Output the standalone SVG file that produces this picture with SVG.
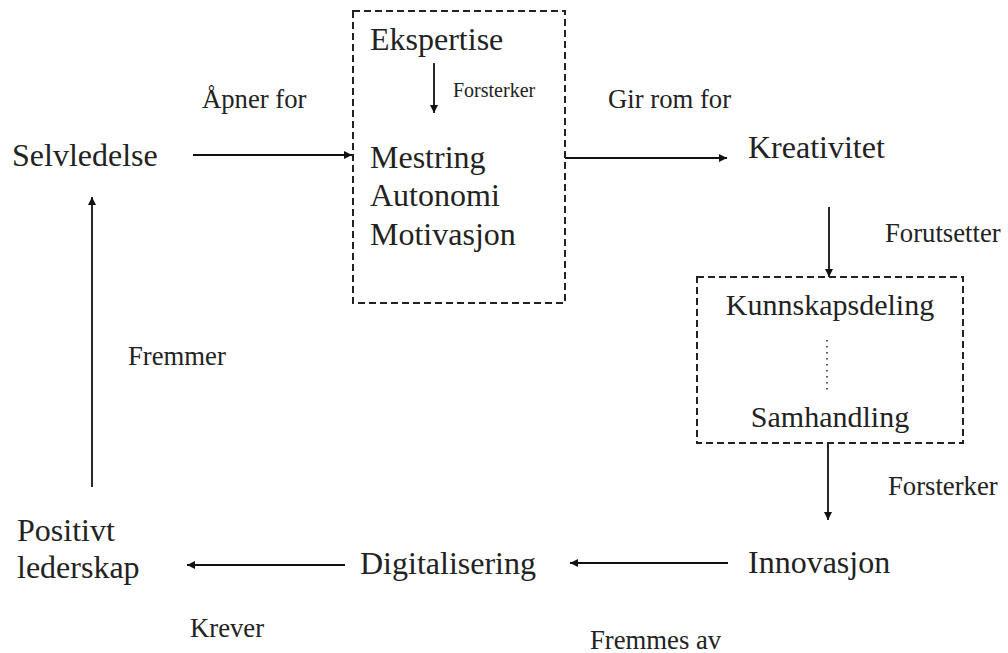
<svg xmlns="http://www.w3.org/2000/svg" width="1008" height="653" viewBox="0 0 1008 653">
<style>
text{font-family:"Liberation Serif","Times New Roman",serif;fill:#222}
.big{font-size:32px}
.mid{font-size:30px}
.lbl{font-size:26.7px}
.sm{font-size:20px}
.box{fill:none;stroke:#222;stroke-width:2;stroke-dasharray:7 4}
.edge{fill:none;stroke:#111;stroke-width:1.8;marker-end:url(#ah)}
</style>
<defs>
<marker id="ah" viewBox="0 0 10 10" refX="10" refY="5" markerWidth="10" markerHeight="8" markerUnits="userSpaceOnUse" orient="auto">
<path d="M0,0 L10,5 L0,10 Z" fill="#111"/>
</marker>
</defs>
<rect width="1008" height="653" fill="#fff"/>
<g id="connectors">
<line class="edge" x1="193" y1="155" x2="352" y2="155"/>
<line class="edge" x1="434" y1="63" x2="434" y2="113"/>
<line class="edge" x1="565" y1="158" x2="727" y2="158"/>
<line class="edge" x1="829" y1="207" x2="829" y2="277"/>
<line x1="827" y1="340" x2="827" y2="392" stroke="#333" stroke-width="1.6" stroke-dasharray="1.5 4.5"/>
<line class="edge" x1="828" y1="443" x2="828" y2="520"/>
<line class="edge" x1="728" y1="563" x2="570" y2="563"/>
<line class="edge" x1="345" y1="565" x2="187" y2="565"/>
<line class="edge" x1="92" y1="487" x2="92" y2="197"/>
<text class="lbl" x="202" y="108">Åpner for</text>
<text class="sm" x="453" y="97">Forsterker</text>
<text class="lbl" x="608" y="108">Gir rom for</text>
<text class="lbl" x="885" y="242">Forutsetter</text>
<text class="lbl" x="888" y="495">Forsterker</text>
<text class="lbl" x="590" y="649">Fremmes av</text>
<text class="lbl" x="190" y="637">Krever</text>
<text class="lbl" x="128" y="365">Fremmer</text>
</g>
<g id="selvledelse"><text class="big" x="12" y="166">Selvledelse</text></g>
<g id="mestring-boks">
<rect class="box" x="353" y="11" width="212" height="292"/>
<text class="big" x="370" y="50">Ekspertise</text>
<text class="big" x="370" y="168">Mestring</text>
<text class="big" x="370" y="206">Autonomi</text>
<text class="big" x="370" y="245">Motivasjon</text>
</g>
<g id="kreativitet"><text class="big" x="748" y="158">Kreativitet</text></g>
<g id="samhandling-boks">
<rect class="box" x="697" y="277" width="266" height="166"/>
<text class="mid" x="830" y="315" text-anchor="middle">Kunnskapsdeling</text>
<text class="mid" x="830" y="427" text-anchor="middle">Samhandling</text>
</g>
<g id="innovasjon"><text class="big" x="748" y="573">Innovasjon</text></g>
<g id="digitalisering"><text class="big" x="360" y="574">Digitalisering</text></g>
<g id="positivt-lederskap">
<text class="big" x="17" y="541">Positivt</text>
<text class="big" x="17" y="578">lederskap</text>
</g>
</svg>
